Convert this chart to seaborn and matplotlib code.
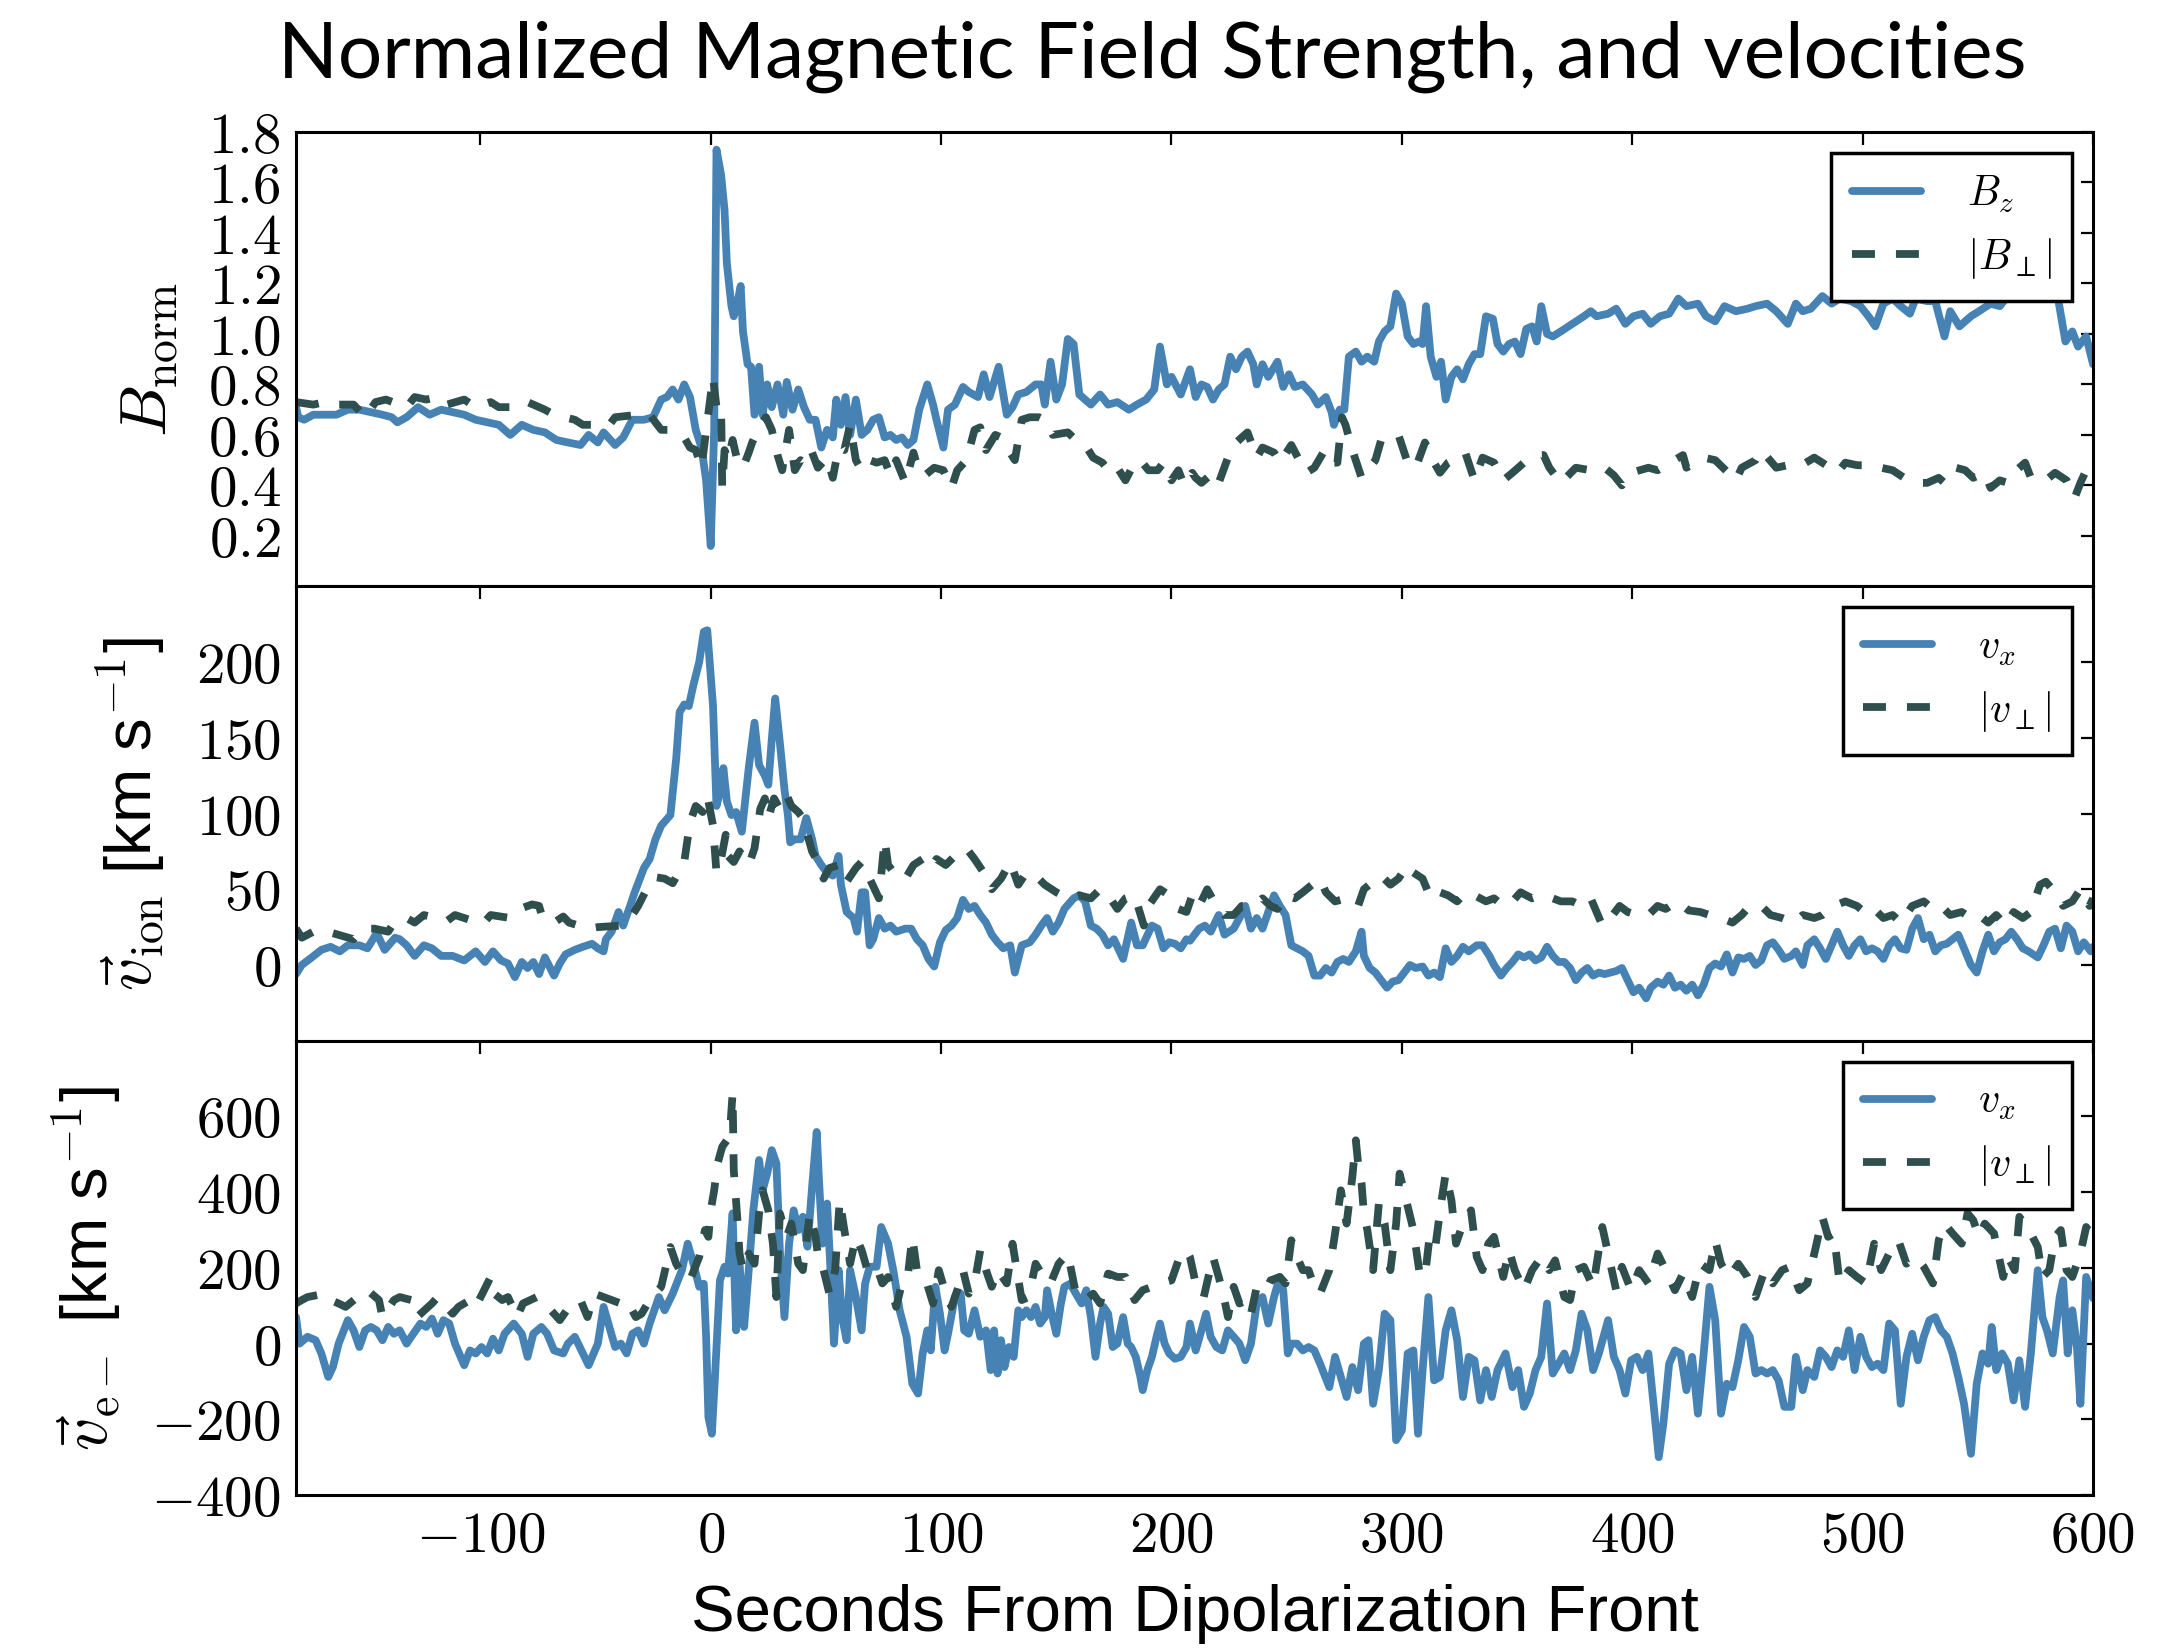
import numpy as np
import pandas as pd
import matplotlib
matplotlib.use("Agg")
import matplotlib.pyplot as plt
import seaborn as sns
from matplotlib.ticker import FuncFormatter

# ---------------------------------------------------------------------------
# Time series (seconds from the dipolarization front, value)
# ---------------------------------------------------------------------------
bz = [(-180,0.71),(-179,0.67),(-176.5,0.66),(-172.5,0.68),(-167.5,0.68),(-162.5,0.68),(-157.5,0.70),(-152.5,0.70),(-147.5,0.69),(-142.5,0.68),(-138.5,0.67),(-136,0.65),(-132,0.67),(-127,0.71),(-122,0.68),(-117,0.70),(-112,0.69),(-107,0.68),(-102,0.66),(-97,0.65),(-92,0.64),(-87,0.60),(-82,0.64),(-77,0.62),(-72,0.61),(-67,0.58),(-62,0.57),(-56.5,0.56),(-53,0.60),(-49,0.57),(-46.5,0.61),(-41.5,0.56),(-38,0.59),(-34,0.66),(-29,0.66),(-25,0.67),(-21.5,0.74),(-19,0.75),(-16.5,0.78),(-14,0.74),(-11.5,0.80),(-9,0.75),(-6.5,0.62),(-4,0.55),(-2,0.42),(0,0.16),(1.5,0.62),(2.5,1.73),(4.5,1.63),(6,1.49),(7,1.28),(9,1.11),(10,1.07),(11.5,1.12),(13,1.19),(14,1.01),(16,0.88),(17.5,0.87),(19,0.68),(21,0.87),(22.5,0.68),(24.5,0.80),(26.5,0.71),(29,0.80),(31.5,0.68),(33,0.81),(35.5,0.70),(38,0.78),(40.5,0.71),(43,0.66),(45.5,0.66),(48,0.55),(50.5,0.62),(53,0.59),(54.5,0.74),(56.5,0.64),(58.5,0.75),(60.5,0.60),(63,0.74),(65.5,0.60),(68,0.62),(70.5,0.66),(73,0.67),(75.5,0.59),(78,0.60),(80.5,0.58),(83,0.59),(85.5,0.56),(88,0.58),(90.5,0.70),(94,0.80),(96.5,0.72),(98,0.66),(101,0.55),(103,0.70),(106,0.72),(109.5,0.79),(112,0.77),(116,0.75),(118.5,0.84),(121,0.75),(125,0.87),(128.5,0.68),(131,0.71),(133.5,0.76),(137,0.77),(141,0.80),(143.5,0.80),(145,0.72),(147.5,0.89),(150,0.74),(152.5,0.80),(155,0.98),(157.5,0.96),(160,0.76),(165,0.72),(169,0.76),(172.5,0.72),(176.5,0.73),(181.5,0.70),(185,0.72),(189,0.74),(192.5,0.78),(195,0.95),(198,0.80),(200,0.83),(204,0.76),
      (208,0.86),(210.5,0.75),(213,0.80),(215.5,0.79),(218,0.74),(220.5,0.78),(223,0.80),(225.5,0.91),(228,0.86),(230.5,0.91),(233,0.93),(235.5,0.88),(237,0.80),(239.5,0.88),(242,0.83),(246,0.89),(248.5,0.79),(251,0.84),(253.5,0.79),(257,0.80),(261,0.76),(263.5,0.72),(267,0.75),(269.5,0.69),(270.5,0.64),(273,0.70),(275,0.70),(277,0.91),(280,0.93),(282.5,0.89),(285,0.91),(288,0.89),(290,0.97),(292.5,1.01),(295,1.03),(297.5,1.16),(300,1.12),(302.5,0.99),(305,0.96),(307.5,0.97),(309,0.96),(310.5,1.11),(312.5,0.91),(315,0.83),(317,0.89),(319,0.74),(321.5,0.83),(324,0.86),(326.5,0.82),(329,0.88),(331.5,0.92),(334,0.92),(336.5,1.07),(339.5,1.06),(341.5,0.96),(344,0.93),(346.5,0.96),(349,0.97),(351.5,0.92),(354,1.02),(356.5,1.03),(358.5,0.97),(360.5,1.11),(363,1.00),(365.5,0.99),(369,1.01),(374,1.04),(379,1.07),(382,1.09),(384.5,1.07),(389.5,1.08),(393,1.10),(397,1.04),(400.5,1.07),(404.5,1.08),(408,1.04),(412,1.07),(416,1.08),(420,1.14),(423.5,1.11),(428.5,1.12),(432,1.07),(436,1.05),(440,1.11),(445,1.09),(450,1.10),(453.5,1.11),(458.5,1.12),(462.5,1.09),(467.5,1.04),(471,1.12),(474,1.09),(477.5,1.10),(482.5,1.15),(486.5,1.12),(490,1.14),(495,1.13),(499,1.11),(502.5,1.07),(505.5,1.03),(509,1.12),(513,1.14),(516.5,1.11),(520.5,1.08),(523,1.14),(528,1.13),(531.5,1.13),(535.5,0.99),(538,1.09),(542,1.03),(547,1.07),(550.5,1.09),(555.5,1.12),(559.5,1.11),(563,1.15),(567,1.14),(570.5,1.17),(576,1.20),(581,1.22),(585,1.13),(588,0.97),(591,1.01),(593.5,0.95),(597,0.99),(600,0.88)]

b_perp = [(-180,0.73),(-172.5,0.72),(-167.5,0.73),(-162.5,0.72),(-155,0.72),(-150,0.67),(-145.5,0.73),(-141,0.74),(-132,0.71),(-128.5,0.75),(-123.5,0.74),(-118.5,0.75),(-114.5,0.72),(-107,0.74),(-102,0.71),(-95.5,0.73),(-92,0.71),(-83,0.71),(-79.5,0.73),(-72,0.70),(-68,0.68),(-59,0.66),(-55.5,0.64),(-44,0.64),(-41.5,0.67),(-31.5,0.68),(-26.5,0.68),(-21.5,0.62),(-17.5,0.62),(-11.5,0.59),(-9,0.55),(-6.5,0.54),(-4,0.47),(-2.5,0.58),(1,0.83),(2.5,0.71),(4.5,0.72),(5,0.39),(6,0.54),(7.5,0.50),(9.5,0.58),(11.5,0.50),(14,0.47),(16.5,0.53),(18,0.57),(21.5,0.64),(24,0.67),(26.5,0.62),(29,0.52),(31,0.46),(34,0.62),(36.5,0.46),(39,0.50),(42,0.48),(44,0.53),(46.5,0.47),(50.5,0.51),(53,0.43),(55.5,0.55),(58,0.54),(60.5,0.64),(63,0.50),(65.5,0.46),(69,0.50),(72,0.49),(75.5,0.50),(78,0.44),(80.5,0.50),(84.5,0.41),(88,0.53),(90.5,0.45),(93,0.44),(97,0.47),(101,0.46),(104.5,0.39),(107,0.46),(111,0.50),(114.5,0.62),(117,0.63),(119.5,0.54),(123.5,0.60),(126,0.59),(128.5,0.55),(132,0.50),(135,0.66),(138.5,0.67),(142.5,0.67),(145,0.66),(148.5,0.60),(155,0.61),(158.5,0.58),(162.5,0.56),(166,0.51),(170,0.49),(173.5,0.45),(176.5,0.47),(180,0.42),(184,0.49),(186.5,0.50),(190,0.46),(194,0.46),(196.5,0.49),(200,0.42),(203,0.46),(205.5,0.40),(209,0.45),
          (210.5,0.43),(213,0.41),(218,0.45),(220.5,0.41),(224.5,0.51),(227,0.56),(230.5,0.59),(233,0.61),(237,0.51),(239.5,0.55),(244.5,0.53),(247,0.49),(252,0.56),(256,0.49),(258.5,0.45),(262,0.47),(266.5,0.54),(269.5,0.49),(272,0.49),(274,0.67),(275.5,0.64),(278.5,0.54),(282.5,0.43),(285,0.46),(288.5,0.50),(291,0.58),(295,0.59),(298.5,0.60),(302.5,0.49),(306,0.47),(310,0.57),(314,0.49),(316.5,0.45),(320,0.49),(324,0.51),(327.5,0.53),(331.5,0.42),(335,0.51),(340,0.49),(344,0.42),(348,0.45),(353,0.49),(358,0.52),(361.5,0.52),(364,0.47),(369,0.41),(375.5,0.47),(382,0.46),(388,0.47),(392,0.44),(395.5,0.40),(399.5,0.45),(407,0.47),(411,0.46),(422,0.52),(423.5,0.47),(431,0.51),(436,0.50),(445,0.42),(447.5,0.47),(453.5,0.50),(456,0.54),(462.5,0.47),(467.5,0.48),(473.5,0.48),(479,0.51),(482.5,0.49),(489,0.45),(492.5,0.49),(497.5,0.48),(502.5,0.48),(508,0.47),(513,0.46),(518,0.43),(524,0.41),(528,0.41),(533,0.43),(535.5,0.41),(540.5,0.47),(544.5,0.46),(548,0.43),(553,0.45),(555.5,0.39),(559.5,0.42),(563,0.41),(565.5,0.45),(570.5,0.49),(573,0.43),(579.5,0.42),(583.5,0.45),(588.5,0.42),(592,0.35),(594.5,0.41),(597,0.46),(600,0.43)]

vx_ion = [(-180,-6),(-177.5,0),(-174,4),(-169,10),(-165,12),(-161,9),(-157.5,13),(-152.5,13),(-149,11),(-145,21),(-141.5,10),(-137,18),(-135,17),(-132,13),(-128.5,6),(-124.5,13),(-121,11),(-117,6),(-112,6),(-107,3),(-102,9),(-98,2),(-94.5,9),(-91,3),(-88,1),(-85,-8),(-82,2),(-79.5,-2),(-77,2),(-74.5,-6),(-72,5),(-68,-7),(-65.5,1),(-63,7),(-59,10),(-55.5,12),(-51.5,14),(-49,11),(-46.5,9),(-45.5,17),(-43,22),(-40,35),(-38,26),(-35,39),(-33,48),(-29,64),(-26.5,70),(-24,83),(-21.5,92),(-17.5,99),(-15,136),(-13.5,167),(-11.5,172),(-9.5,171),(-7.5,185),(-5,200),(-3,220),(-1.5,221),(1,171),(2.5,105),(4,114),(5.5,130),(7,108),(9,99),(11,101),(13.5,88),(16.5,130),(19,160),(21,132),(23.5,125),(25,119),(26.5,149),(28,176),(30,147),(32,116),(33.5,99),(34.5,81),(36.5,83),(39,83),(41.5,97),(44,83),(45.5,72),(48,66),(50.5,61),(53,59),(55.5,72),(56.5,53),(59,35),(62,31),(63.5,22),(65.5,48),(67,48),(69,13),(70.5,17),(73,31),(75.5,24),(78,26),(80.5,22),(84.5,24),(87,24),(89.5,17),(92,13),(94.5,4),(97,-1),(99.5,15),(102,23),(104.5,26),(107,31),(109.5,43),(112,37),(114.5,39),(117,33),(119.5,28),(122,20),(124.5,15),(127,11),(130,13),(132,-5),(135,13),(138.5,15),(141,20),(143.5,26),(146,31),(148.5,22),(151,28),(153.5,37),(157.5,44),(160,46),(162.5,42),(165,26),(167.5,24),(170,20),(172.5,13),(175,17),(179,4),(182.5,28),(185,13),(187.5,13),(191.5,26),(194,24),(196.5,11),(199,15),(201.5,14),(204,11),(206.5,17),
          (208,16),(212,24),(214.5,26),(217,22),(220.5,33),(223,20),(227,24),(229.5,31),(232,39),(234.5,24),(237,31),(239.5,24),(242,35),(244.5,46),(247,39),(249.5,33),(252,13),(254.5,11),(257,9),(259.5,6),(262,-7),(264.5,-7),(267,-2),(269.5,-5),(272,2),(274.5,4),(277,2),(280,9),(282.5,22),(283.5,6),(286,-2),(288.5,-5),(291,-10),(293.5,-15),(296,-11),(298.5,-10),(301,-5),(303.5,0),(306,-2),(309,-1),(311.5,-7),(314,-5),(316.5,-8),(319,11),(321.5,2),(324,6),(326.5,12),(329,9),(332.5,13),(335,13),(338,6),(340,0),(343,-7),(345.5,-2),(348,2),(350.5,7),(353,5),(355.5,7),(358,3),(360.5,5),(363,12),(365.5,6),(368,2),(370.5,2),(373,-2),(375.5,-10),(378,-5),(380.5,-2),(383,-7),(385.5,-5),(388,-6),(390.5,-5),(393,-4),(395.5,-2),(398,-10),(400.5,-18),(403,-15),(406,-22),(408,-15),(411,-11),(413.5,-13),(416,-7),(418.5,-15),(421,-13),(423.5,-17),(426,-13),(428.5,-20),(431,-13),(433.5,-2),(436,1),(438.5,-1),(441,7),(443.5,-5),(446,5),(448.5,4),(451,6),(453.5,0),(456,3),(458.5,13),(461,15),(463.5,10),(466,4),(469,6),(471,9),(474,0),(476,13),(479,17),(481.5,11),(484,4),(486.5,13),(489,22),(491.5,13),(494,6),(496.5,13),(499,17),(501.5,9),(504,11),(506.5,9),(509,4),(511.5,13),(514,17),(516.5,11),(519,10),(521.5,24),(524,31),(526.5,17),(529,20),(531.5,9),(534,13),(536.5,14),(539,17),(541.5,20),(544,11),(547,0),(549.5,-5),(552,9),(554.5,20),(557,9),(559.5,15),(562,17),(564.5,22),(567,17),(569.5,11),(572,9),(576,5),(578.5,13),(581,22),(583.5,24),(586,11),(588.5,26),(591,22),(593.5,9),(596,15),(599,9),(600,12)]

vperp_ion = [(-180,24),(-177.5,18),(-172.5,22),(-166.5,20),(-164,21),(-155,17),(-151,24),(-146,24),(-140,22),(-137,29),(-132,31),(-128.5,28),(-124.5,33),(-114.5,29),(-111,33),(-99,27),(-95.5,33),(-87,31),(-83,37),(-77.5,40),(-74.5,39),(-73,31),(-68,28),(-64,32),(-61.5,28),(-53,24),(-49,25),(-39,26),(-36.5,27),(-31.5,39),(-27.5,51),(-24,58),(-20,57),(-16.5,54),(-11.5,68),(-9,94),(-6.5,105),(-3.5,101),(-1.5,112),(1,92),(2.5,61),(4.5,70),(6.5,86),(7.5,72),(10,68),(12.5,75),(16.5,66),(19,77),(21.5,103),(23.5,110),(25,97),(27.5,110),(30,103),(33,112),(35,105),(38,101),(40,97),(42.5,83),(44,75),(46.5,68),(49,57),(51.5,64),(55.5,66),(59,55),(63,64),(65.5,68),(69,57),(73,44),(75.5,83),(77,66),(80.5,59),(84.5,57),(88,66),(92,70),(95.5,64),(98,70),(102,66),(106,72),(111,77),(114.5,70),(118.5,61),(122,50),(126,57),(130,68),(133.5,53),(137,61),(141,59),(145,53),(150,48),(155,44),(160,46),(165,44),(169,50),(172.5,46),(176.5,37),(180,44),(184,46),(188,26),(190,39),(195,50),(199,46),(203,37),(206.5,35),
             (209,46),(212,39),(215.5,50),(219.5,39),(223,33),(227,33),(230.5,39),(235.5,39),(239.5,44),(243,39),(246,37),(249.5,46),(253.5,44),(257,48),(261,53),(264.5,57),(267,48),(271,42),(276,44),(281,39),(283.5,50),(287.5,55),(291,59),(295,53),(298.5,57),(302.5,66),(305,61),(309,57),(312.5,44),(316.5,48),(320,46),(324,42),(327.5,48),(331.5,46),(336.5,42),(340,44),(344,39),(348,42),(351.5,48),(356.5,44),(360.5,46),(365.5,44),(369,42),(374,42),(378,39),(382,44),(387,26),(390.5,31),(394.5,39),(398,35),(402,33),(407,33),(411,39),(414.5,37),(419.5,42),(424.5,36),(429.5,35),(433.5,33),(438.5,31),(443.5,28),(447.5,33),(451,39),(456,39),(460,33),(465,31),(470,28),(474,33),(479,31),(482.5,33),(487.5,39),(492.5,42),(497.5,39),(501.5,34),(505,37),(509,31),(513,33),(516.5,28),(521.5,39),(526.5,42),(530.5,37),(534,39),(538,33),(543,35),(547,31),(550.5,33),(554.5,28),(558,33),(562,26),(565.5,35),(569.5,31),(573,35),(577,53),(579.5,55),(583.5,48),(587,39),(591,42),(594.5,50),(598.5,39),(600,44)]

vx_e = [(-180,70),(-178.5,0),(-175,18),(-171.5,9),(-169,-26),(-166,-88),(-164,-62),(-161.5,0),(-157.5,62),(-155,35),(-152.5,-9),(-150,35),(-147.5,44),(-145,35),(-142.5,9),(-140,44),(-137.5,26),(-135,35),(-132,0),(-130,18),(-126,53),(-123.5,44),(-121,66),(-118.5,26),(-116,62),(-113.5,53),(-111,0),(-107,-57),(-104.5,-18),(-102,-26),(-99.5,-9),(-97,-26),(-94.5,13),(-92,-18),(-89.5,26),(-85.5,53),(-82,26),(-79.5,-35),(-77,26),(-73.5,44),(-71,26),(-68,-18),(-64,-26),(-62,0),(-59,18),(-55.5,-26),(-53,-57),(-49,0),(-46.5,97),(-44,44),(-41.5,-9),(-39,0),(-36.5,-26),(-34,26),(-31.5,35),(-29,0),(-26.5,53),(-22.5,123),(-20,88),(-16.5,132),(-12.5,194),(-10,264),(-7.5,211),(-5,150),(-3,158),(-2,18),(-1,-194),(0.5,-238),(2,-70),(4,167),(6,203),(7.5,185),(9.5,344),(11,35),(12.5,211),(14.5,44),(16.5,194),(18.5,352),(21,485),(22.5,405),(24.5,449),(26.5,511),(28.5,476),(30,247),(32,70),(34,264),(36,352),(38,300),(40,335),(42,256),(44,414),(46,559),(47,432),(48.5,264),(50.5,370),(52,194),(53.5,0),(55.5,194),(57,70),(59,9),(60.5,194),(63,123),(65.5,35),(67,158),(69,203),(72,203),(74,308),(77,264),(79.5,185),(82,88),(85,18),(87.5,-106),(90,-132),(92,-26),(94,35),(95.5,-18),(97.5,150),(99.5,79),(101.5,-18),(103,26),(106,123),(108.5,132),(110,35),(112,26),(114.5,88),(117,18),(119.5,35),(121.5,-70),(123,35),(124.5,-79),(126,9),(127.5,-62),(129.5,-9),(131.5,-35),(133.5,88),(135,70),(137,88),(139,70),(141,97),(143,53),(145,70),(146,141),(148,79),(150,26),(152,106),(153.5,150),(156,158),(158.5,132),(161,106),(163,141),(165,70),(167,-35),(169,53),(170.5,97),(172.5,79),(174.5,-9),(176.5,0),(179,70),(181,0),(182.5,-9),(184.5,-35),(186.5,-88),(187.5,-123),(189.5,-70),(191.5,-35),(193.5,18),(195,53),(197,0),(199,-26),(201.5,-40),(204,-35),(206.5,-9),
        (208,53),(210.5,-18),(213,35),(215,79),(217,18),(219.5,-9),(222,-18),(224.5,35),(227,18),(229.5,0),(232,-44),(234.5,0),(237,106),(239.5,123),(242,53),(244.5,123),(247,176),(248.5,141),(250.5,-26),(252,0),(254.5,0),(257,-18),(259.5,-9),(262,-18),(264.5,-53),(268.5,-115),(271,-35),(273.5,-88),(276,-141),(278.5,-62),(281,-123),(283.5,0),(285.5,9),(287.5,-159),(290,-70),(292.5,79),(295,62),(297.5,-255),(300,-229),(302.5,-26),(305,-18),(307,-238),(309,-70),(311.5,123),(314,-97),(316.5,-88),(319,35),(321.5,88),(324,9),(326.5,-141),(329,-35),(331.5,-44),(334,-150),(336.5,-70),(339,-141),(341.5,-70),(345,-26),(348,-115),(350.5,-70),(353,-167),(355.5,-132),(358,-70),(360.5,-35),(363,106),(365.5,-79),(368,-53),(370.5,-26),(373,-70),(375.5,-18),(378,79),(380.5,35),(383,-70),(385.5,-26),(389.5,62),(392,-35),(394.5,-70),(397,-132),(399.5,-44),(402,-35),(404.5,-70),(407,-26),(409.5,-176),(411.5,-300),(413.5,-211),(416,-53),(418.5,-18),(421,-26),(423.5,-123),(426,-35),(428.5,-185),(431,-26),(433.5,150),(436,62),(438.5,-185),(441,-106),(443.5,-115),(446,-44),(448.5,44),(451,18),(453.5,-79),(456,-70),(458.5,-79),(461,-70),(463.5,-97),(466,-167),(469,-167),(471,-35),(474,-123),(476,-70),(479,-88),(481.5,-18),(484,-35),(486.5,-62),(489,-18),(491.5,-35),(494,35),(496.5,-70),(499,18),(501.5,-35),(504,-62),(506.5,-53),(509,-70),(511.5,53),(514,35),(516.5,-159),(519,-35),(521.5,26),(524,-44),(526.5,18),(529,62),(531.5,70),(534,35),(536.5,18),(539,-26),(541.5,-88),(544,-159),(547,-291),(549.5,-106),(552,-26),(554.5,-53),(556,44),(558,-70),(560.5,-26),(563,-53),(565.5,-150),(568,-44),(570.5,-167),(573,-26),(576,194),(578,70),(580,35),(582.5,-26),(585.5,123),(587,167),(589,-26),(591,88),(593,-9),(594.5,-159),(597,176),(600,120)]

vperp_e = [(-180,106),(-177.5,115),(-175,123),(-167.5,132),(-165,115),(-161.5,106),(-158.5,97),(-151.5,132),(-149,141),(-144,115),(-142.5,70),(-137.5,115),(-135,123),(-130,115),(-127.5,70),(-121,106),(-118.5,123),(-112,79),(-109.5,97),(-104.5,115),(-102,97),(-95.5,176),(-94,132),(-90.5,115),(-88,123),(-84,70),(-81.5,106),(-75.5,123),(-72,106),(-65.5,62),(-61.5,97),(-56.5,115),(-53.5,70),(-50.5,132),(-46.5,123),(-39,106),(-36.5,115),(-32.5,70),(-30,79),(-26.5,115),(-21.5,150),(-17.5,255),(-15,211),(-12.5,185),(-9,167),(-5,229),(-2.5,300),(-1,282),(0,352),(1.5,405),(3,476),(5,520),(7,537),(8.5,573),(9.5,661),(10,458),(11.5,335),(12.5,238),(14,194),(16.5,238),(19,211),(21,344),(22.5,405),(25,352),(27,264),(28.5,123),(30,344),(33,282),(35,317),(38,211),(40,194),(43,344),(45.5,282),(47,211),(49,194),(51.5,132),(54,194),(56,379),(58,300),(60.5,211),(63,282),(65.5,247),(68,194),(72,203),(74.5,159),(77,176),(80.5,97),(83,159),(85.5,176),(87.5,282),(89.5,194),(93,176),(96.5,106),(99,194),(102,132),(104.5,97),(107,141),(109.5,194),(112,132),(114.5,159),(117,247),(119.5,194),(122,150),(124.5,194),(128.5,159),(131,264),(135,115),(138,123),(141,211),(144.5,176),(147.5,159),(151,211),(155,238),(158.5,132),(162.5,115),(166,132),(169,106),(172.5,185),(176.5,176),(180,176),(184,115),(187.5,141),(191.5,150),(195,159),(200,167),(203,220),(206.5,247),
           (208,229),(210.5,159),(214,123),(218,229),(220.5,176),(223,115),(224.5,70),(227,150),(229.5,106),(233,115),(234.5,79),(237,150),(241,141),(243,167),(247,176),(249.5,159),(252,273),(254.5,229),(257,194),(259.5,194),(262,150),(264.5,132),(268.5,194),(271,291),(273.5,405),(276,317),(278.5,441),(280,537),(281,476),(282.5,423),(283.5,344),(285,300),(287.5,194),(290,370),(292.5,317),(295,194),(297.5,317),(299,449),(301.5,388),(305,300),(307.5,194),(310,176),(312,282),(314.5,255),(317,370),(319,449),(321.5,379),(323.5,264),(326.5,317),(330,352),(332.5,229),(335,194),(337.5,264),(340,282),(344,176),(346.5,247),(349,194),(353,141),(356.5,194),(360.5,229),(364,194),(366.5,220),(370.5,123),(373,115),(375.5,194),(379,203),(383,150),(387,308),(389.5,238),(393,141),(395.5,203),(399.5,141),(403,194),(407,159),(411,238),(414.5,194),(418.5,141),(422,185),(426,123),(429.5,211),(433.5,194),(436,273),(438.5,211),(442,176),(446,211),(450,176),(453.5,123),(457.5,194),(461,159),(465,194),(468.5,203),(472.5,141),(476,159),(480,264),(482.5,335),(485,282),(487.5,291),(490,159),(494,194),(497.5,176),(501.5,159),(505,264),(508,194),(511.5,238),(515.5,273),(519,211),(523,229),(526.5,203),(530.5,159),(533,273),(535.5,317),(539,291),(543,264),(545.5,344),(548,326),(550.5,282),(553,317),(557,291),(561,176),(563,229),(566,194),(568,335),(571,308),(573,291),(576,255),(578,176),(581,194),(583.5,282),(586,300),(588.5,194),(591,176),(594.5,238),(597,308),(600,282)]

# Axis ticks and labels
x_ticks = [-100, 0, 100, 200, 300, 400, 500, 600]
b_ticks = [0.2, 0.4, 0.6, 0.8, 1.0, 1.2, 1.4, 1.6, 1.8]
vi_ticks = [0, 50, 100, 150, 200]
ve_ticks = [-400, -200, 0, 200, 400, 600]

BLUE = "#4682B4"
DARK = "#2F4F4F"
LW = 5.6

sns.set_theme(style="white")
plt.rcParams["font.family"] = ["Liberation Sans", "DejaVu Sans"]
plt.rcParams["mathtext.fontset"] = "cm"
plt.rcParams["axes.unicode_minus"] = True
plt.rcParams["text.color"] = "black"
plt.rcParams["axes.labelcolor"] = "black"

fig, axes = plt.subplots(3, 1, sharex=True, figsize=(21.83, 16.48), dpi=100)
fig.subplots_adjust(left=0.1356, right=0.9588, top=0.9199, bottom=0.0928, hspace=0)


def draw(ax, pts, color, label, dashed=False):
    df = pd.DataFrame(pts, columns=["t", "value"])
    n_before = len(ax.lines)
    sns.lineplot(data=df, x="t", y="value", ax=ax, color=color,
                 label=label, estimator=None, sort=False)
    for line in ax.lines[n_before:]:
        line.set_linewidth(LW)
        if dashed:
            line.set_linestyle((0, (2.95, 2.7)))
            line.set_dash_capstyle("butt")


panels = [
    (axes[0], bz, b_perp, r"$B_z$", r"$|B_\perp|$", (0, 1.8), b_ticks, "{:.1f}",
     r"$B_{\rm norm}$"),
    (axes[1], vx_ion, vperp_ion, r"$v_x$", r"$|v_\perp|$", (-50, 250), vi_ticks, "{:.0f}",
     r"$\vec{v}_{\rm ion}$ [km s$^{-1}$]"),
    (axes[2], vx_e, vperp_e, r"$v_x$", r"$|v_\perp|$", (-400, 800), ve_ticks, "{:.0f}",
     r"$\vec{v}_{\rm e-}$ [km s$^{-1}$]"),
]

for ax, solid, dashed, lab1, lab2, ylim, yt, fmt, ylab in panels:
    draw(ax, solid, BLUE, lab1)
    draw(ax, dashed, DARK, lab2, dashed=True)
    ax.set_xlim(-180, 600)
    ax.set_ylim(*ylim)
    ax.set_yticks(yt)
    ax.set_xticks(x_ticks)
    ax.yaxis.set_major_formatter(FuncFormatter(lambda v, p, f=fmt: "$" + f.format(v) + "$"))
    ax.xaxis.set_major_formatter(FuncFormatter(lambda v, p: "${:.0f}$".format(v)))
    ax.tick_params(direction="in", length=9, width=1.6, top=True, right=True,
                   labelsize=41, pad=11, colors="black")
    for s in ax.spines.values():
        s.set_linewidth(2.2)
        s.set_color("black")
    ax.set_ylabel(ylab, fontsize=47, labelpad=20, color="black")
    ax.set_xlabel("")
    ax.grid(False)
    leg = ax.legend(loc="upper right", fontsize=30, handlelength=1.65, handletextpad=1.1,
                    borderpad=0.5, labelspacing=0.5, frameon=True, fancybox=False,
                    framealpha=1, edgecolor="black", borderaxespad=0.5)
    leg.get_frame().set_linewidth(2.5)

axes[2].set_xlabel("Seconds From Dipolarization Front", fontsize=47, labelpad=14, color="black")

fig.text(0.528, 1 - 78 / 1648, "Normalized Magnetic Field Strength, and velocities",
         ha="center", va="baseline", fontsize=56.5, family="Lato", color="black")

fig.savefig("out.png", dpi=100, facecolor="white")
